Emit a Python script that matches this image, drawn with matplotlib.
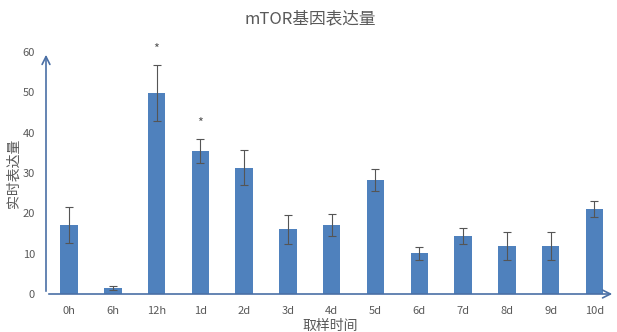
import numpy as np
import matplotlib
matplotlib.use("Agg")
import matplotlib.pyplot as plt

plt.rcParams["font.family"] = ["Noto Sans CJK SC", "DejaVu Sans"]

# ── Data ───────────────────────────────────────────────────────────────────────

LABELS = ["0h", "6h", "12h", "1d", "2d", "3d", "4d", "5d", "6d", "7d", "8d", "9d", "10d"]
VALUES = [17.1, 1.5, 49.8, 35.5, 31.3, 16.0, 17.1, 28.2, 10.1, 14.3, 11.9, 11.9, 21.1]
ERRORS = [4.5, 0.6, 7.0, 2.9, 4.3, 3.6, 2.7, 2.7, 1.6, 2.0, 3.5, 3.5, 2.0]
STARRED = ["12h", "1d"]

BAR_COLOR = "#4f81bd"
AXIS_COLOR = "#4a6fa5"
TEXT_COLOR = "#595959"

# ── Plot ───────────────────────────────────────────────────────────────────────

fig = plt.figure(figsize=(6.17, 3.32), dpi=100)
ax = fig.add_axes([46 / 617, 38 / 332, 569 / 617, 242 / 332])

x = np.arange(len(LABELS))
ax.bar(x, VALUES, width=0.4, color=BAR_COLOR, zorder=2)
ax.errorbar(x, VALUES, yerr=ERRORS, fmt="none", ecolor="#555555",
            elinewidth=0.8, capsize=3, capthick=0.8, zorder=3)

for lab in STARRED:
    i = LABELS.index(lab)
    ax.text(i, VALUES[i] + ERRORS[i] + 2.2, "*", ha="center", va="bottom",
            fontsize=9, color=TEXT_COLOR)

ax.set_xlim(-0.525, 12.47)
ax.set_ylim(0, 60)
ax.set_yticks(range(0, 61, 10))
ax.set_xticks(x)
ax.set_xticklabels(LABELS)
ax.tick_params(axis="both", length=0, labelsize=8, labelcolor=TEXT_COLOR)
ax.tick_params(axis="x", pad=9)
ax.tick_params(axis="y", pad=8)

for s in ax.spines.values():
    s.set_visible(False)

# arrowed axes
arrow = dict(arrowstyle="->", color=AXIS_COLOR, lw=1.2, mutation_scale=14)
ax.annotate("", xy=(0, 1.0), xytext=(0, 0), xycoords="axes fraction",
            arrowprops=arrow, annotation_clip=False)
ax.annotate("", xy=(1.0, 0), xytext=(0, 0), xycoords="axes fraction",
            arrowprops=arrow, annotation_clip=False)

ax.set_ylabel("实时表达量", fontsize=10, color=TEXT_COLOR, labelpad=1)
ax.set_xlabel("取样时间", fontsize=10, color=TEXT_COLOR, labelpad=2)
fig.text(310 / 617, 1 - 19 / 332, "mTOR基因表达量", ha="center", va="center",
         fontsize=12, color=TEXT_COLOR)

fig.savefig("out.png", dpi=100)
